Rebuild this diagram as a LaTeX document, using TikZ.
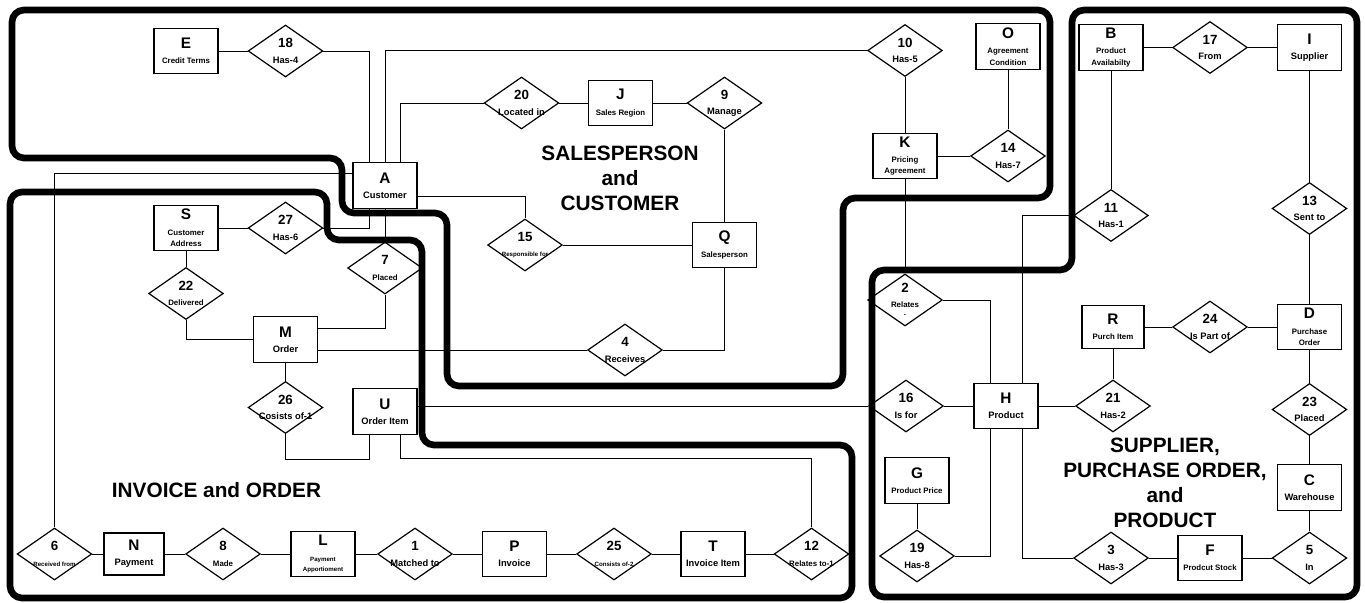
\documentclass[tikz,border=0pt]{standalone}
\usepackage{fontspec}
\setmainfont{Liberation Sans}
\usetikzlibrary{shapes.geometric}
\newcommand{\ltr}[1]{{\fontsize{11.5}{12}\selectfont #1}}
\newcommand{\rnum}[1]{{\fontsize{10}{12}\selectfont #1}}
\newcommand{\smtxt}{\fontsize{5.9}{7}\selectfont}
\newcommand{\tinytxt}{\fontsize{4.6}{6}\selectfont}
\begin{document}
\begin{tikzpicture}[x=0.75pt,y=-0.75pt,
  ent/.style={draw,line width=0.9pt,minimum width=48pt,minimum height=34pt,inner sep=0pt,
    align=center,font=\bfseries\fontsize{7}{11.5}\selectfont},
  rel/.style 2 args={diamond,draw,line width=0.9pt,minimum width=56pt,minimum height=39pt,
    inner sep=0pt,label={[rlab]center:{\rnum{#1}\\#2}}},
  rlab/.style={align=center,font=\bfseries\fontsize{7}{11.5}\selectfont},
  conn/.style={line width=0.7pt},
  area/.style={line width=5pt,rounded corners=9pt},
  title/.style={align=center,font=\bfseries\fontsize{15.6}{18.75}\selectfont}]
\useasboundingbox (0,0) rectangle (1365,603);

% entities
\node[ent] (E) at (186,51) {\ltr{E}\\\smtxt Credit Terms};
\node[ent] (A) at (385,185.5) {\ltr{A}\\Customer};
\node[ent] (J) at (620.5,103) {\ltr{J}\\\smtxt Sales Region};
\node[ent] (Q) at (724.5,245) {\ltr{Q}\\\smtxt Salesperson};
\node[ent] (K) at (905,156) {\ltr{K}\\\smtxt Pricing\\[-3pt]\smtxt Agreement};
\node[ent] (O) at (1008,46.5) {\ltr{O}\\\smtxt Agreement\\[-3pt]\smtxt Condition};
\node[ent] (B) at (1111,47.5) {\ltr{B}\\\smtxt Product\\[-3pt]\smtxt Availabilty};
\node[ent] (I) at (1309.5,47.5) {\ltr{I}\\Supplier};
\node[ent,minimum width=46.5pt,minimum height=32pt] (R) at (1113,327) {\ltr{R}\\\smtxt Purch Item};
\node[ent] (D) at (1309.5,327) {\ltr{D}\\\smtxt Purchase\\[-3pt]\smtxt Order};
\node[ent] (H) at (1006,406) {\ltr{H}\\Product};
\node[ent] (C) at (1309.5,487.5) {\ltr{C}\\Warehouse};
\node[ent] (F) at (1210,558) {\ltr{F}\\\smtxt Prodcut Stock};
\node[ent] (G) at (917,480.5) {\ltr{G}\\\smtxt Product Price};
\node[ent] (S) at (186,228) {\ltr{S}\\\smtxt Customer\\[-3pt]\smtxt Address};
\node[ent] (M) at (285.5,339.5) {\ltr{M}\\Order};
\node[ent] (U) at (385,411.5) {\ltr{U}\\Order Item};
\node[ent,minimum width=45pt,minimum height=31.5pt] (N) at (134,554) {\ltr{N}\\Payment};
\node[ent] (L) at (323,554) {\ltr{L}\\\tinytxt Payment\\[-4pt]\tinytxt Apportioment};
\node[ent] (P) at (514.5,554) {\ltr{P}\\Invoice};
\node[ent] (T) at (713,554) {\ltr{T}\\Invoice Item};

% relationships
\node[rel={18}{Has-4}] (r18) at (285.5,51) {};
\node[rel={20}{Located in}] (r20) at (521.5,103) {};
\node[rel={9}{Manage}] (r9) at (724.5,103) {};
\node[rel={10}{Has-5}] (r10) at (905,50.5) {};
\node[rel={14}{Has-7}] (r14) at (1008,156) {};
\node[rel={17}{From}] (r17) at (1210,47.5) {};
\node[rel={11}{Has-1}] (r11) at (1111,215.5) {};
\node[rel={13}{Sent to}] (r13) at (1309.5,208.5) {};
\node[rel={2}{\smtxt Relates\\[-5pt]\tinytxt -}] (r2) at (905,300) {};
\node[rel={24}{Is Part of}] (r24) at (1210,327) {};
\node[rel={16}{Is for}] (r16) at (906,406) {};
\node[rel={21}{Has-2}] (r21) at (1113,406) {};
\node[rel={23}{Placed}] (r23) at (1309.5,409.5) {};
\node[rel={5}{In}] (r5) at (1309.5,558) {};
\node[rel={3}{Has-3}] (r3) at (1111,558) {};
\node[rel={19}{Has-8}] (r19) at (917,556) {};
\node[rel={27}{Has-6}] (r27) at (285.5,228) {};
\node[rel={7}{\smtxt Placed}] (r7) at (385,268) {};
\node[rel={22}{\smtxt Delivered}] (r22) at (186,293.5) {};
\node[rel={15}{\tinytxt Responsible for}] (r15) at (525,245) {};
\node[rel={4}{Receives}] (r4) at (625,350) {};
\node[rel={26}{Cosists of-1}] (r26) at (285.5,407.5) {};
\node[rel={6}{\tinytxt Received from}] (r6) at (54.5,554) {};
\node[rel={8}{\smtxt Made}] (r8) at (223,554) {};
\node[rel={1}{Matched to}] (r1) at (415,554) {};
\node[rel={25}{\tinytxt Consists of-2}] (r25) at (614,554) {};
\node[rel={12}{\smtxt Relates to-1}] (r12) at (811.5,554) {};

% titles
\node[title] (t1) at (620,178) {SALESPERSON\\and\\CUSTOMER};
\node[title] (t2) at (216.5,490) {INVOICE and ORDER};
\node[title] (t3) at (1165,483) {SUPPLIER,\\PURCHASE ORDER,\\and\\PRODUCT};

% connectors
\foreach \a/\b in {E/r18,r20/J,J/r9,K/r14,B/r17,r17/I,R/r24,r24/D,r16/H,H/r21,r3/F,F/r5,
                   S/r27,r15/Q,r6/N,N/r8,r8/L,L/r1,r1/P,P/r25,r25/T,T/r12}
  \draw[conn] (\a.east) -- (\b.west);
\foreach \a/\b in {r9/Q,r10/K,O/r14,K/r2,B/r11,I/r13,r13/D,R/r21,D/r23,r23/C,C/r5,
                   G/r19,A/r7,S/r22,M/r26}
  \draw[conn] (\a.south) -- (\b.north);
\draw[conn] (r18.east) -| ([xshift=-12pt]A.north);
\draw[conn] (A.north) |- (r10.west);
\draw[conn] ([xshift=11.25pt]A.north) |- (r20.west);
\draw[conn] (r2.east) -| ([xshift=-12pt]H.north);
\draw[conn] (r11.west) -| ([xshift=12pt]H.north);
\draw[conn] ([xshift=12pt]H.south) |- (r3.west);
\draw[conn] ([xshift=-12pt]H.south) |- (r19.east);
\draw[conn] (r16.west) -- (r16.west -| U.east);
\draw[conn] ([yshift=-7.9pt]A.east) -| (r15.north);
\draw[conn] (Q.south) |- (r4.east);
\draw[conn] (r4.west) -- (r4.west -| M.east);
\draw[conn] (r7.south) |- ([yshift=8.6pt]M.east);
\draw[conn] ([xshift=-12pt]A.south) |- (r27.east);
\draw[conn] (r22.south) |- (M.west);
\draw[conn] (r26.south) -- ++(0,25) -| ([xshift=-12pt]U.south);
\draw[conn] ([xshift=11.25pt]U.south) -- ++(0,24) -| (r12.north);
\draw[conn] ([yshift=9.4pt]A.west) -| (r6.north);

% areas
\draw[area] (12,10) -- (1050,10) -- (1050,198) -- (843,198) -- (843,386) -- (447,386)
  -- (447,213) -- (342,213) -- (342,158) -- (12,158) -- cycle;
\draw[area] (10,192) -- (327,192) -- (327,240) -- (422,240) -- (422,445) -- (852,445)
  -- (852,598) -- (10,598) -- cycle;
\draw[area] (1072,10) -- (1357,10) -- (1357,597) -- (872,597) -- (872,270) -- (1072,270)
  -- cycle;
\end{tikzpicture}
\end{document}
